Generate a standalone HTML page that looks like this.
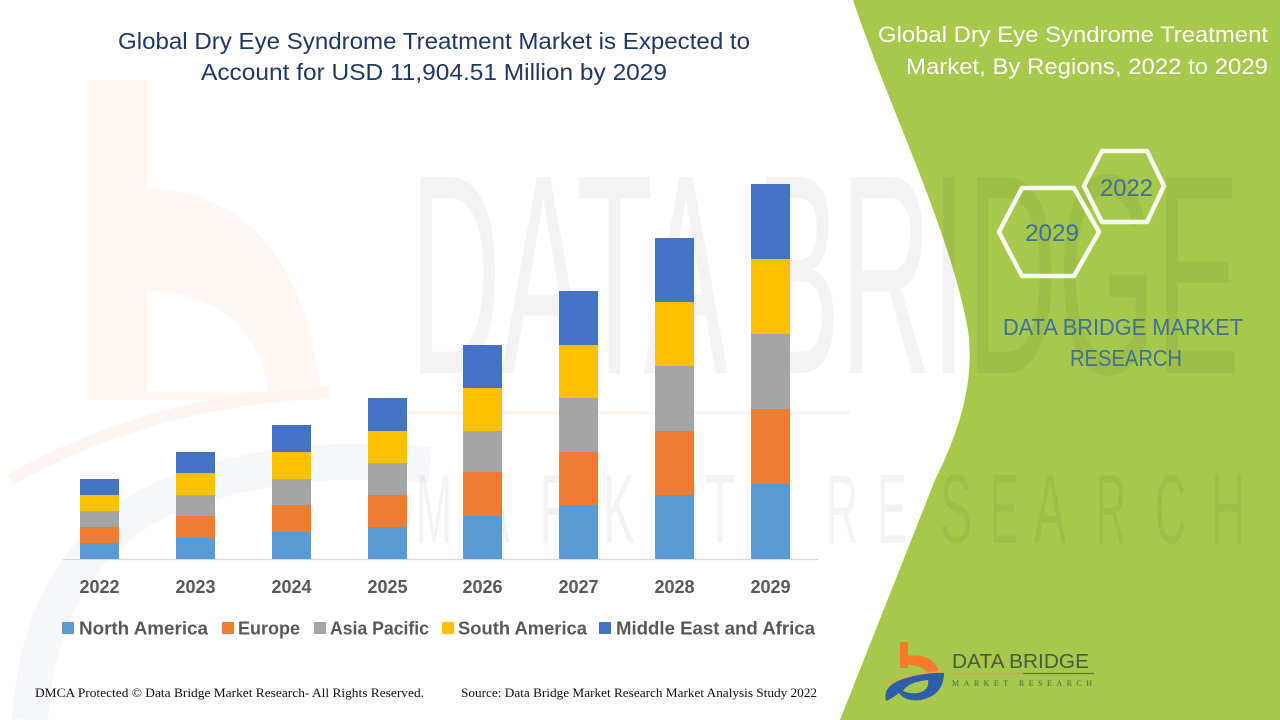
<!DOCTYPE html>
<html>
<head>
<meta charset="utf-8">
<style>
html,body{margin:0;padding:0;background:#fff;}
svg{display:block;}
</style>
</head>
<body>
<svg width="1280" height="720" viewBox="0 0 1280 720" xmlns="http://www.w3.org/2000/svg">
  <rect x="0" y="0" width="1280" height="720" fill="#ffffff"/>

  <!-- faint watermark logo on left -->
  <g>
    <path d="M88,80 H147 V188 Q300,195 322,400 H88 Z M147,290 V392 H268 Q258,298 147,290 Z" fill="#fef7f3" fill-rule="evenodd"/>
    <path d="M10,480 Q150,400 330,392" fill="none" stroke="#fef5f0" stroke-width="12"/>
    <path d="M30,720 Q40,560 160,500 Q280,450 430,465" fill="none" stroke="#f5f7fa" stroke-width="36"/>
  </g>

  <!-- green panel -->
  <path d="M853,0 C890,110 950,230 968,330 C975,380 960,430 935,480 L840,720 L1280,720 L1280,0 Z" fill="#a6c84b"/>

  <!-- watermark text -->
  <g fill="#000000" opacity="0.045" font-family="'Liberation Sans', sans-serif">
    <text x="410" y="373" font-size="285" textLength="830" lengthAdjust="spacingAndGlyphs">DATA BRIDGE</text>
    <g font-size="98">
      <text x="416" y="543" textLength="36" lengthAdjust="spacingAndGlyphs">M</text>
      <text x="476" y="543" textLength="34" lengthAdjust="spacingAndGlyphs">A</text>
      <text x="540" y="543" textLength="32" lengthAdjust="spacingAndGlyphs">R</text>
      <text x="603" y="543" textLength="32" lengthAdjust="spacingAndGlyphs">K</text>
      <text x="655" y="543" textLength="30" lengthAdjust="spacingAndGlyphs">E</text>
      <text x="705" y="543" textLength="30" lengthAdjust="spacingAndGlyphs">T</text>
      <text x="826" y="543" textLength="32" lengthAdjust="spacingAndGlyphs">R</text>
      <text x="877" y="543" textLength="30" lengthAdjust="spacingAndGlyphs">E</text>
      <text x="940" y="543" textLength="32" lengthAdjust="spacingAndGlyphs">S</text>
      <text x="990" y="543" textLength="28" lengthAdjust="spacingAndGlyphs">E</text>
      <text x="1034" y="543" textLength="32" lengthAdjust="spacingAndGlyphs">A</text>
      <text x="1096" y="543" textLength="30" lengthAdjust="spacingAndGlyphs">R</text>
      <text x="1155" y="543" textLength="31" lengthAdjust="spacingAndGlyphs">C</text>
      <text x="1211" y="543" textLength="34" lengthAdjust="spacingAndGlyphs">H</text>
    </g>
  </g>
  <line x1="400" y1="413" x2="640" y2="413" stroke="#fef5ef" stroke-width="4"/>
  <line x1="640" y1="413" x2="850" y2="413" stroke="#f7f7f7" stroke-width="4"/>

  <!-- left title -->
  <g font-family="'Liberation Sans', sans-serif" fill="#203864" font-size="23">
    <text x="118" y="49" textLength="632" lengthAdjust="spacingAndGlyphs">Global Dry Eye Syndrome Treatment Market is Expected to</text>
    <text x="201" y="80" textLength="466" lengthAdjust="spacingAndGlyphs">Account for USD 11,904.51 Million by 2029</text>
  </g>

  <!-- axis line -->
  <line x1="62" y1="559.5" x2="818" y2="559.5" stroke="#d9d9d9" stroke-width="1.2"/>

  <!-- bars -->
  <g>
    <rect x="80" y="543" width="39" height="16" fill="#5b9bd5"/>
    <rect x="80" y="527" width="39" height="16" fill="#ed7d31"/>
    <rect x="80" y="511" width="39" height="16" fill="#a5a5a5"/>
    <rect x="80" y="495" width="39" height="16" fill="#ffc000"/>
    <rect x="80" y="479" width="39" height="16" fill="#4472c4"/>

    <rect x="176" y="538" width="39" height="21" fill="#5b9bd5"/>
    <rect x="176" y="516" width="39" height="22" fill="#ed7d31"/>
    <rect x="176" y="495" width="39" height="21" fill="#a5a5a5"/>
    <rect x="176" y="473" width="39" height="22" fill="#ffc000"/>
    <rect x="176" y="452" width="39" height="21" fill="#4472c4"/>

    <rect x="272" y="532" width="39" height="27" fill="#5b9bd5"/>
    <rect x="272" y="505" width="39" height="27" fill="#ed7d31"/>
    <rect x="272" y="479" width="39" height="26" fill="#a5a5a5"/>
    <rect x="272" y="452" width="39" height="27" fill="#ffc000"/>
    <rect x="272" y="425" width="39" height="27" fill="#4472c4"/>

    <rect x="368" y="527" width="39" height="32" fill="#5b9bd5"/>
    <rect x="368" y="495" width="39" height="32" fill="#ed7d31"/>
    <rect x="368" y="463" width="39" height="32" fill="#a5a5a5"/>
    <rect x="368" y="431" width="39" height="32" fill="#ffc000"/>
    <rect x="368" y="398" width="39" height="33" fill="#4472c4"/>

    <rect x="463" y="516" width="39" height="43" fill="#5b9bd5"/>
    <rect x="463" y="472" width="39" height="44" fill="#ed7d31"/>
    <rect x="463" y="431" width="39" height="41" fill="#a5a5a5"/>
    <rect x="463" y="388" width="39" height="43" fill="#ffc000"/>
    <rect x="463" y="345" width="39" height="43" fill="#4472c4"/>

    <rect x="559" y="505" width="39" height="54" fill="#5b9bd5"/>
    <rect x="559" y="452" width="39" height="53" fill="#ed7d31"/>
    <rect x="559" y="398" width="39" height="54" fill="#a5a5a5"/>
    <rect x="559" y="345" width="39" height="53" fill="#ffc000"/>
    <rect x="559" y="291" width="39" height="54" fill="#4472c4"/>

    <rect x="655" y="495" width="39" height="64" fill="#5b9bd5"/>
    <rect x="655" y="431" width="39" height="64" fill="#ed7d31"/>
    <rect x="655" y="366" width="39" height="65" fill="#a5a5a5"/>
    <rect x="655" y="302" width="39" height="64" fill="#ffc000"/>
    <rect x="655" y="238" width="39" height="64" fill="#4472c4"/>

    <rect x="751" y="484" width="39" height="75" fill="#5b9bd5"/>
    <rect x="751" y="409" width="39" height="75" fill="#ed7d31"/>
    <rect x="751" y="334" width="39" height="75" fill="#a5a5a5"/>
    <rect x="751" y="259" width="39" height="75" fill="#ffc000"/>
    <rect x="751" y="184" width="39" height="75" fill="#4472c4"/>
  </g>

  <!-- year labels -->
  <g font-family="'Liberation Sans', sans-serif" font-weight="bold" font-size="18" fill="#595959" text-anchor="middle">
    <text x="99.5" y="593">2022</text>
    <text x="195.5" y="593">2023</text>
    <text x="291.5" y="593">2024</text>
    <text x="387.5" y="593">2025</text>
    <text x="482.5" y="593">2026</text>
    <text x="578.5" y="593">2027</text>
    <text x="674.5" y="593">2028</text>
    <text x="770.5" y="593">2029</text>
  </g>

  <!-- legend -->
  <g>
    <rect x="62" y="622" width="12" height="12" fill="#5b9bd5"/>
    <rect x="222" y="622" width="12" height="12" fill="#ed7d31"/>
    <rect x="314" y="622" width="12" height="12" fill="#a5a5a5"/>
    <rect x="442" y="622" width="12" height="12" fill="#ffc000"/>
    <rect x="599" y="622" width="12" height="12" fill="#4472c4"/>
  </g>
  <g font-family="'Liberation Sans', sans-serif" font-weight="bold" font-size="18.5" fill="#595959">
    <text x="79" y="634.5" textLength="129" lengthAdjust="spacingAndGlyphs">North America</text>
    <text x="238" y="634.5" textLength="62" lengthAdjust="spacingAndGlyphs">Europe</text>
    <text x="330" y="634.5" textLength="99" lengthAdjust="spacingAndGlyphs">Asia Pacific</text>
    <text x="458" y="634.5" textLength="129" lengthAdjust="spacingAndGlyphs">South America</text>
    <text x="616" y="634.5" textLength="199" lengthAdjust="spacingAndGlyphs">Middle East and Africa</text>
  </g>

  <!-- footer -->
  <g font-family="'Liberation Serif', serif" font-size="12.5" fill="#111">
    <text x="35" y="697" textLength="389" lengthAdjust="spacingAndGlyphs">DMCA Protected © Data Bridge Market Research- All Rights Reserved.</text>
    <text x="461" y="697" textLength="356" lengthAdjust="spacingAndGlyphs">Source: Data Bridge Market Research Market Analysis Study 2022</text>
  </g>

  <!-- right title -->
  <g font-family="'Liberation Sans', sans-serif" font-size="22" fill="#ffffff">
    <text x="878" y="42" textLength="390" lengthAdjust="spacingAndGlyphs">Global Dry Eye Syndrome Treatment</text>
    <text x="906" y="74" textLength="362" lengthAdjust="spacingAndGlyphs">Market, By Regions, 2022 to 2029</text>
  </g>

  <!-- hexagons -->
  <g fill="none" stroke="#f7faef" stroke-width="4.5" stroke-linejoin="round">
    <path d="M1084,186 L1102,151 L1147,151 L1164,186 L1147,222 L1102,222 Z"/>
    <path d="M999,232 L1022,188 L1074,188 L1099,232 L1074,276 L1022,276 Z"/>
  </g>
  <g font-family="'Liberation Sans', sans-serif" font-size="24" fill="#3d7199">
    <text x="1100" y="196" textLength="53" lengthAdjust="spacingAndGlyphs">2022</text>
    <text x="1025" y="241" textLength="54" lengthAdjust="spacingAndGlyphs">2029</text>
    <text x="1003" y="335" font-size="23.5" textLength="240" lengthAdjust="spacingAndGlyphs">DATA BRIDGE MARKET</text>
    <text x="1070" y="366" font-size="23.5" textLength="112" lengthAdjust="spacingAndGlyphs">RESEARCH</text>
  </g>

  <!-- bottom logo -->
  <g>
    <rect x="900" y="642" width="8" height="26" fill="#f47b2a"/>
    <path d="M906,656 Q936,652 940,676 L930,677 Q926,665 906,665 Z" fill="#f47b2a"/>
    <path d="M884,684 Q910,674 946,671" fill="none" stroke="#f0a050" stroke-width="1.5"/>
    <path d="M886,701 Q882,686 903,679 Q925,672 944,673 Q944,695 921,700 Q906,702 899,693 Q893,698 886,701 Z" fill="#2d5ea9"/>
    <path d="M903,691 Q908,682 928,680 Q930,690 918,693 Q910,694 903,691 Z" fill="#a6c84b"/>
    <text x="952" y="668" font-family="'Liberation Sans', sans-serif" font-size="20" fill="#4f573e" textLength="137" lengthAdjust="spacingAndGlyphs">DATA BRIDGE</text>
    <line x1="950" y1="673.5" x2="1023" y2="673.5" stroke="#c9a65a" stroke-width="1.3"/>
    <line x1="1023" y1="673.5" x2="1094" y2="673.5" stroke="#6b7556" stroke-width="1.3"/>
    <text x="952" y="686" font-family="'Liberation Serif', serif" font-size="8" fill="#5a6248" textLength="140" lengthAdjust="spacing">MARKET  RESEARCH</text>
  </g>
</svg>
</body>
</html>
